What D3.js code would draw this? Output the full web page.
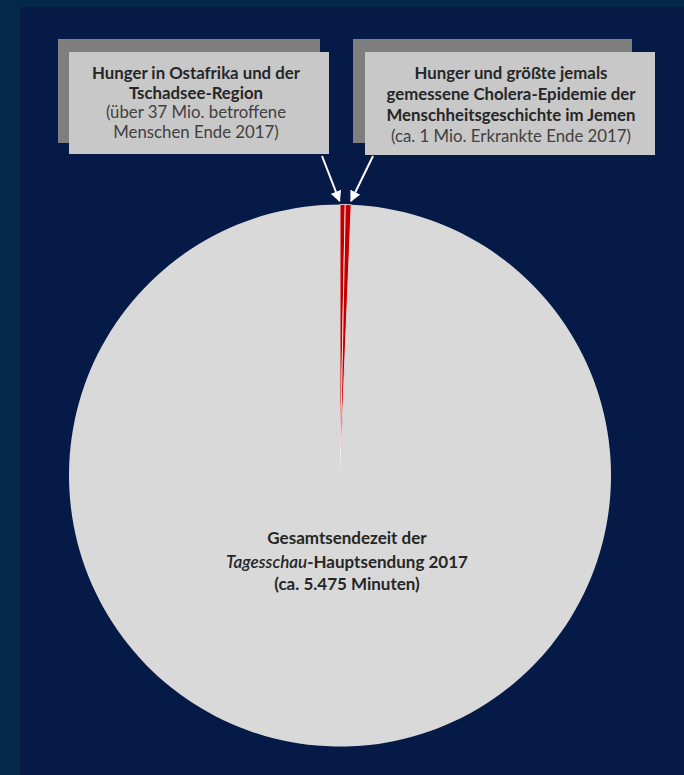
<!DOCTYPE html>
<html>
<head>
<meta charset="utf-8">
<script src="https://cdn.jsdelivr.net/npm/d3@7"></script>
<style>
  html, body { margin: 0; padding: 0; background: #042848; }
  svg { display: block; }
</style>
</head>
<body>
<svg id="chart" width="684" height="775"></svg>
<script>
// ---- Data ----
const categories = [
  "Hunger in Ostafrika und der Tschadsee-Region",
  "Hunger und Cholera-Epidemie im Jemen",
  "Übrige Sendezeit"
];
const minutes = [17, 19, 5439];          // total ≈ 5.475 Minuten
const sliceColors = ["#c00000", "#c00000", "#d9d9d9"];

const leftBoxLines = [
  { text: "Hunger in Ostafrika und der", bold: true },
  { text: "Tschadsee-Region", bold: true },
  { text: "(über 37 Mio. betroffene", bold: false },
  { text: "Menschen Ende 2017)", bold: false }
];
const rightBoxLines = [
  { text: "Hunger und größte jemals", bold: true },
  { text: "gemessene Cholera-Epidemie der", bold: true },
  { text: "Menschheitsgeschichte im Jemen", bold: true },
  { text: "(ca. 1 Mio. Erkrankte Ende 2017)", bold: false }
];

// ---- Layout ----
const W = 684, H = 775;
const svg = d3.select("#chart");
const FONT = "Lato, 'Open Sans', sans-serif";

// background panels
svg.append("rect").attr("x", 0).attr("y", 0).attr("width", W).attr("height", H).attr("fill", "#042848");
svg.append("rect").attr("x", 20).attr("y", 7).attr("width", W - 20).attr("height", H - 7).attr("fill", "#061a47");

// pie
const cx = 340, cy = 475.5, R = 271;
const pie = d3.pie().sort(null).value(d => d).startAngle(0).endAngle(2 * Math.PI);
const arc = d3.arc().innerRadius(0).outerRadius(R);
const arcs = pie(minutes);

const g = svg.append("g").attr("transform", `translate(${cx},${cy})`);
g.selectAll("path.slice")
  .data(arcs)
  .join("path")
  .attr("class", "slice")
  .attr("d", arc)
  .attr("fill", (d, i) => sliceColors[i])
  .attr("stroke", (d, i) => i < 2 ? "#ffffff" : "none")
  .attr("stroke-width", 0.8)
  .attr("stroke-linejoin", "round");

// center label
const ctx = 347;
const centerText = svg.append("text")
  .attr("x", ctx).attr("y", 544)
  .attr("text-anchor", "middle")
  .attr("font-family", FONT).attr("font-size", 17)
  .attr("fill", "#262626");
centerText.append("tspan").attr("x", ctx).attr("dy", 0)
  .attr("font-weight", "bold").text("Gesamtsendezeit der");
const l2 = centerText.append("tspan").attr("x", ctx).attr("dy", 24);
l2.append("tspan").attr("font-style", "italic").attr("font-weight", 600).text("Tagesschau");
l2.append("tspan").attr("font-weight", "bold").text("-Hauptsendung 2017");
centerText.append("tspan").attr("x", ctx).attr("dy", 22)
  .attr("font-weight", "bold").text("(ca. 5.475 Minuten)");

// annotation boxes
function box(shadow, front, cxText, y0, lines, lh) {
  svg.append("rect").attr("x", shadow[0]).attr("y", shadow[1])
    .attr("width", shadow[2]).attr("height", shadow[3]).attr("fill", "#7f7f7f");
  svg.append("rect").attr("x", front[0]).attr("y", front[1])
    .attr("width", front[2]).attr("height", front[3]).attr("fill", "#c8c8c8");
  svg.append("g").selectAll("text").data(lines).join("text")
    .attr("x", cxText).attr("y", (d, i) => y0 + i * lh)
    .attr("text-anchor", "middle")
    .attr("font-family", FONT).attr("font-size", 16.8)
    .attr("font-weight", d => d.bold ? "bold" : "normal")
    .attr("fill", d => d.bold ? "#262626" : "#404040")
    .text(d => d.text);
}
box([58, 39, 262, 104], [69, 52, 260, 102], 196, 79, leftBoxLines, 19.5);
box([353, 39, 279, 104], [365, 52, 290, 103], 511, 79, rightBoxLines, 21);

// arrows pointing to the two red slices
const defs = svg.append("defs");
defs.append("marker").attr("id", "arrow")
  .attr("viewBox", "0 0 10 10").attr("refX", 9).attr("refY", 5)
  .attr("markerWidth", 5.5).attr("markerHeight", 5.5).attr("orient", "auto")
  .append("path").attr("d", "M0,0 L10,5 L0,10 Z").attr("fill", "#ffffff");

const arrows = [
  { from: [322, 156], to: [339.5, 201] },
  { from: [373, 156], to: [351, 201] }
];
svg.selectAll("line.arrow").data(arrows).join("line")
  .attr("class", "arrow")
  .attr("x1", d => d.from[0]).attr("y1", d => d.from[1])
  .attr("x2", d => d.to[0]).attr("y2", d => d.to[1])
  .attr("stroke", "#ffffff").attr("stroke-width", 2)
  .attr("marker-end", "url(#arrow)");
</script>
</body>
</html>
